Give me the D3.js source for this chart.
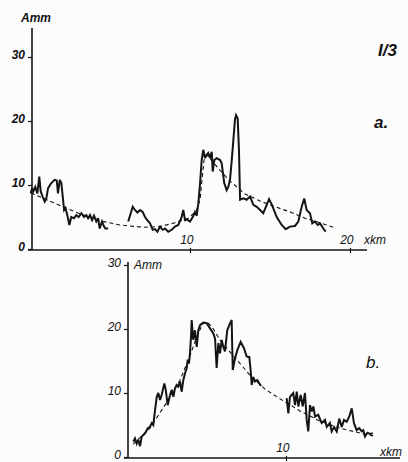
<!DOCTYPE html>
<html>
<head>
<meta charset="utf-8">
<script src="https://cdn.jsdelivr.net/npm/d3@7"></script>
<style>
  html, body { margin: 0; padding: 0; background: #fcfcfc; }
  svg { display: block; }
  text { font-family: "Liberation Sans", Arial, sans-serif; font-style: italic; fill: #111; }
</style>
</head>
<body>
<svg id="chart" width="408" height="462"></svg>
<script>
// ---------- DATA ----------
// Panel a: amplitude A (mm) versus distance x (km)
const aSeg1Km  = [0.04,0.13,0.21,0.33,0.46,0.58,0.67,0.79,0.92,1.02,1.13,1.33,1.54,1.67,1.75,1.86,1.96,2.13,2.21,2.33,2.46,2.58,2.75,2.89,3.04,3.21,3.38,3.52,3.63,3.75,3.88,4.0,4.14,4.25,4.36,4.5,4.63,4.71,4.88];
const aSeg1Amp = [8.7,9.5,9.0,9.7,8.7,11.3,9.0,8.2,7.4,7.9,9.5,10.3,10.8,10.7,8.7,10.8,10.3,6.1,6.4,5.3,3.75,5.0,4.8,5.3,5.0,5.6,5.0,5.3,4.8,5.3,4.5,5.2,4.3,4.8,3.2,4.3,3.5,3.2,3.2];
const aSeg2Km  = [6.14,6.42,6.56,6.71,6.88,7.04,7.19,7.33,7.5,7.67,7.81,7.96,8.13,8.29,8.44,8.64,8.86,9.06,9.27,9.48,9.58,9.69,9.83,10.0,10.17,10.31,10.42,10.52,10.63,10.73,10.83,10.94,11.04,11.14,11.25,11.36,11.42,11.52,11.67,11.88,11.98,12.14,12.29,12.39,12.5,12.61,12.71,12.81,12.88,12.98,13.06,13.13,13.33,13.54,13.75,13.96,14.17,14.38,14.58,14.94,15.12,15.42,15.73,15.98,16.25,16.56,16.77,16.98,17.14,17.29,17.5,17.64,17.81,17.98,18.13,18.33,18.48];
const aSeg2Amp = [4.3,6.6,6.1,5.7,6.1,5.8,5.0,4.5,4.0,3.0,3.1,2.7,3.5,3.0,3.2,2.7,3.0,3.5,3.75,5.0,6.1,4.5,4.6,4.3,5.0,5.8,5.2,7.1,10.3,13.9,15.5,14.2,14.7,15.0,14.2,15.2,12.1,13.9,14.2,13.9,13.4,10.3,9.2,9.7,10.8,13.9,17.0,20.2,20.9,20.4,15.5,7.7,7.9,7.7,8.2,6.9,6.6,6.1,5.6,7.8,6.9,5.0,3.75,3.1,3.5,3.6,4.3,6.6,7.9,6.1,5.6,4.0,4.3,3.75,4.0,3.2,2.7];
const aTrendKm  = [0.06,0.94,2.06,3.13,4.38,5.63,7.06,8.13,9.06,9.88,10.38,10.63,10.75,10.88,11.06,11.38,11.88,12.5,13.44,14.38,15.31,16.25,17.19,18.13,19.06];
const aTrendAmp = [8.75,7.8,6.6,5.5,4.4,3.75,3.4,3.5,4.1,4.8,5.9,7.7,10.8,13.9,14.7,13.75,12.3,10.6,8.6,7.5,6.6,5.8,4.8,4.1,3.3];

// Panel b
const bSeg1Km  = [0.34,0.44,0.55,0.65,0.76,0.87,1.08,1.25,1.39,1.5,1.6,1.71,1.82,1.92,2.03,2.13,2.3,2.39,2.51,2.66,2.77,2.87,2.97,3.08,3.18,3.29,3.4,3.5,3.61,3.72,3.78,3.86,3.92,3.99,4.03,4.13,4.24,4.35,4.45,4.56,4.77,4.98,5.19,5.4,5.51,5.61,5.72,5.82,5.93,6.03,6.14,6.28,6.41,6.56,6.63,6.77,6.92,7.13,7.34,7.51,7.68,7.77,7.83,7.93,8.04,8.18,8.31,8.42];
const bSeg1Amp = [2.4,2.9,2.1,2.7,1.7,3.2,3.7,4.5,4.7,5.3,5.0,7.3,9.4,10.0,8.9,9.7,11.5,10.5,8.1,9.7,10.5,9.4,10.7,11.25,11.0,11.8,10.2,12.0,13.1,13.9,15.2,14.6,16.2,18.8,21.4,18.3,19.8,17.2,19.8,20.6,21.0,20.9,20.1,19.3,18.5,13.9,17.8,16.2,18.3,17.2,16.5,19.8,20.6,21.4,13.6,15.4,16.7,18.0,17.0,15.7,15.6,13.3,11.25,12.5,11.8,12.0,11.5,11.1];
const bSeg2Km  = [10.04,10.15,10.25,10.46,10.57,10.68,10.78,10.93,11.06,11.2,11.31,11.41,11.52,11.63,11.73,11.84,12.04,12.26,12.47,12.58,12.78,12.89,13.04,13.21,13.37,13.53,13.67,13.84,14.0,14.16,14.3,14.47,14.64,14.79,14.89,15.0,15.15,15.32,15.49];
const bSeg2Amp = [9.2,6.8,9.4,10.0,8.1,10.2,7.9,9.7,7.9,10.0,5.8,4.0,8.1,7.1,7.9,6.3,6.6,5.3,5.8,4.7,5.3,4.0,4.7,4.0,6.0,4.7,5.8,5.5,6.3,7.6,5.3,4.2,4.5,4.0,4.2,3.2,3.8,3.6,3.7];
const bTrendKm  = [0.32,1.39,2.34,3.29,3.92,4.37,4.75,5.0,5.32,5.82,6.77,7.72,8.67,9.62,10.89,12.15,13.42,14.68,15.51];
const bTrendAmp = [2.0,4.5,8.1,12.0,15.8,18.9,20.9,21.1,20.3,18.3,15.5,12.8,10.6,9.1,7.2,5.6,4.5,3.75,3.3];

const yTicks   = [0, 10, 20, 30];
const aXTicks  = [10, 20];
const bXTicks  = [10];
const yUnit = "Amm";
const xUnit = "xkm";

// ---------- DRAW ----------
const svg = d3.select("#chart");
const ink = "#141414";

function zip(xs, ys) { return xs.map((x, i) => [x, ys[i]]); }

function panel(cfg) {
  const g = svg.append("g");
  const x = d3.scaleLinear().domain([0, cfg.xMaxDom]).range([cfg.x0, cfg.x1]);
  const y = d3.scaleLinear().domain([0, 30]).range([cfg.y0, cfg.y30]);

  // axis lines (hand-drawn extents)
  g.append("line").attr("x1", cfg.x0 + cfg.yAxisDx).attr("x2", cfg.x0 + cfg.yAxisDx)
    .attr("y1", cfg.yTop).attr("y2", y(0) + 1)
    .attr("stroke", ink).attr("stroke-width", 1.6);
  g.append("line").attr("x1", cfg.xAxisL).attr("x2", cfg.xAxisR)
    .attr("y1", y(0) + 1).attr("y2", y(0) + 1)
    .attr("stroke", ink).attr("stroke-width", 1.6);

  // y axis ticks
  const ya = d3.axisLeft(y).tickValues(yTicks).tickSize(4).tickPadding(3);
  const yg = g.append("g").attr("transform", `translate(${cfg.x0 + cfg.yAxisDx},0)`).call(ya);
  yg.select(".domain").remove();
  yg.selectAll(".tick line").attr("stroke", ink).attr("stroke-width", 1.2);
  yg.selectAll(".tick text").attr("font-size", 12).attr("font-weight", cfg.bold ? "bold" : "normal")
    .attr("font-family", "Liberation Sans, Arial, sans-serif").attr("font-style", "italic").attr("fill", ink)
    .attr("dy", "0.1em");

  // x axis ticks (labels sit above the axis, left of the tick)
  const xa = d3.axisBottom(x).tickValues(cfg.xTicks).tickSize(5).tickPadding(0);
  const xg = g.append("g").attr("transform", `translate(0,${y(0) - 1})`).call(xa);
  xg.select(".domain").remove();
  xg.selectAll(".tick line").attr("stroke", ink).attr("stroke-width", 1.2);
  xg.selectAll(".tick text").attr("font-size", 12).attr("font-style", "italic")
    .attr("font-family", "Liberation Sans, Arial, sans-serif").attr("fill", ink)
    .attr("text-anchor", "end").attr("x", 3).attr("y", -4).attr("dy", 0);

  // unit labels
  g.append("text").attr("x", cfg.yUnitX).attr("y", cfg.yUnitY)
    .attr("font-size", 12).attr("font-weight", cfg.bold ? "bold" : "normal").text(yUnit);
  g.append("text").attr("x", cfg.xUnitX).attr("y", cfg.xUnitY)
    .attr("font-size", 12).text(xUnit);
  g.append("text").attr("x", cfg.tagX).attr("y", cfg.tagY)
    .attr("font-size", 17).attr("font-weight", cfg.bold ? "bold" : "normal").text(cfg.tag);

  const line = d3.line().x(d => x(d[0])).y(d => y(d[1]));
  g.append("path").datum(zip(cfg.trendKm, cfg.trendAmp)).attr("d", line)
    .attr("fill", "none").attr("stroke", ink).attr("stroke-width", 1.1)
    .attr("stroke-dasharray", "4,3");
  cfg.segs.forEach(s => {
    g.append("path").datum(zip(s[0], s[1])).attr("d", line)
      .attr("fill", "none").attr("stroke", ink).attr("stroke-width", 2)
      .attr("stroke-linejoin", "miter").attr("stroke-miterlimit", 3);
  });
}

panel({
  xMaxDom: 20, x0: 30, x1: 350, y0: 249, y30: 57, yAxisDx: 2, yTop: 28,
  xAxisL: 28, xAxisR: 367, xTicks: aXTicks, bold: true,
  yUnitX: 21, yUnitY: 22, xUnitX: 364, xUnitY: 244,
  tag: "a.", tagX: 374, tagY: 128,
  trendKm: aTrendKm, trendAmp: aTrendAmp,
  segs: [[aSeg1Km, aSeg1Amp], [aSeg2Km, aSeg2Amp]]
});

panel({
  xMaxDom: 10, x0: 128, x1: 286, y0: 457, y30: 265, yAxisDx: 0, yTop: 262,
  xAxisL: 124, xAxisR: 400, xTicks: bXTicks, bold: false,
  yUnitX: 134, yUnitY: 269, xUnitX: 380, xUnitY: 456,
  tag: "b.", tagX: 366, tagY: 368,
  trendKm: bTrendKm, trendAmp: bTrendAmp,
  segs: [[bSeg1Km, bSeg1Amp], [bSeg2Km, bSeg2Amp]]
});

// page mark
svg.append("text").attr("x", 378).attr("y", 56).attr("font-size", 17).attr("font-weight", "bold").text("I/3");
</script>
</body>
</html>
